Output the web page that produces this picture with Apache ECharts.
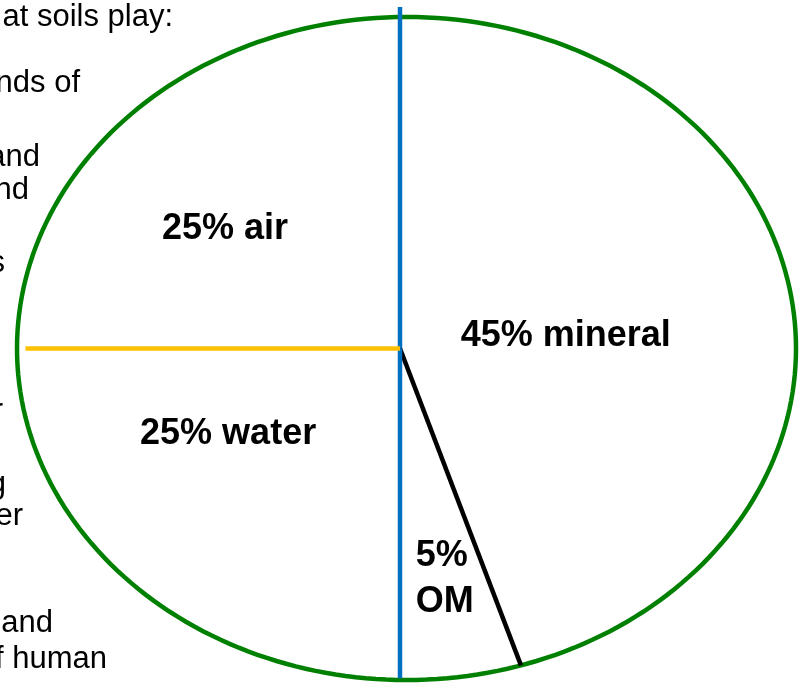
<!DOCTYPE html>
<html>
<head>
<meta charset="utf-8">
<title>Soil composition</title>
<script src="https://cdn.jsdelivr.net/npm/echarts@6/dist/echarts.min.js"></script>
<style>
html, body { margin: 0; padding: 0; background: #fff; }
#chart { width: 804px; height: 683px; }
</style>
</head>
<body>
<div id="chart"></div>
<script>
// soil components, clockwise from the top
var components = ["mineral", "OM", "water", "air"];
var percents = [45, 5, 25, 25];
// slide text that is cut off at the left edge
var sideText = ["at soils play:", "nds of", "and", "nd", "s", "r", "g", "er", "and", "f human"];

// styles
var dividerColors = ["#0070C0", "#000000", "#0070C0", "#FFC000"];
var dividerReach = [1.03, 1, 0.995, 0.978];
var labelSep = [" ", "\n", " ", " "];
var labelPos = [[0.409, 0.036], [0.024, -0.697], [-0.458, -0.259], [-0.466, 0.361]];
var labelAlign = ["center", "left", "center", "center"];
var sideRight = [173, 80, 40, 29, 5, 3, 6, 23, 53, 107];
var sideY = [17, 83, 157, 190, 263, 411, 484, 516, 623, 659];
var hub = -0.0167; // where the dividers meet (x axis units)

var total = percents.reduce(function (a, b) { return a + b; }, 0);
var slices = [];
var acc = 0;
percents.forEach(function (v, i) {
  slices.push([acc / total, v, i]);
  acc += v;
});

function renderSlice(params, api) {
  var i = params.dataIndex;
  var start = api.value(0);
  var children = [];

  // outline of the ellipse, drawn once under everything
  if (i === 0) {
    var pts = [];
    for (var k = 0; k <= 240; k++) {
      var a = k / 240 * Math.PI * 2;
      pts.push(api.coord([Math.cos(a), Math.sin(a)]));
    }
    children.push({
      type: "polygon",
      shape: { points: pts },
      style: { fill: "#fff", stroke: "#008000", lineWidth: 4.5 },
      z2: 0
    });
  }

  // divider at the start of the slice
  var th = start * Math.PI * 2;
  var s = Math.sin(th), c = Math.cos(th);
  var t = -hub * s + Math.sqrt(hub * hub * s * s - hub * hub + 1);
  t *= dividerReach[i];
  var p0 = api.coord([hub, 0]);
  var p1 = api.coord([hub + t * s, t * c]);
  children.push({
    type: "line",
    shape: { x1: p0[0], y1: p0[1], x2: p1[0], y2: p1[1] },
    style: { stroke: dividerColors[i], lineWidth: 4.5 },
    z2: 5
  });

  // label
  var lp = api.coord(labelPos[i]);
  children.push({
    type: "text",
    x: lp[0],
    y: lp[1],
    style: {
      text: api.value(1) + "%" + labelSep[i] + components[i],
      font: 'bold 36px "Liberation Sans", Arial, sans-serif',
      fill: "#000",
      align: labelAlign[i],
      textAlign: labelAlign[i],
      verticalAlign: "middle",
      textVerticalAlign: "middle",
      lineHeight: 46
    },
    z2: 10
  });

  return { type: "group", children: children };
}

var chart = echarts.init(document.getElementById("chart"));
chart.setOption({
  animation: false,
  backgroundColor: "#fff",
  grid: { left: 17, top: 17, width: 779, height: 663 },
  xAxis: { type: "value", min: -1, max: 1, show: false },
  yAxis: { type: "value", min: -1, max: 1, show: false },
  graphic: sideText.map(function (txt, i) {
    return {
      type: "text",
      x: sideRight[i],
      y: sideY[i],
      style: {
        text: txt,
        font: '31px "Liberation Sans", Arial, sans-serif',
        fill: "#000",
        align: "right",
        textAlign: "right",
        verticalAlign: "middle",
        textVerticalAlign: "middle"
      }
    };
  }),
  series: [{
    type: "custom",
    coordinateSystem: "cartesian2d",
    renderItem: renderSlice,
    encode: { x: 0, y: 1 },
    data: slices
  }]
});
</script>
</body>
</html>
